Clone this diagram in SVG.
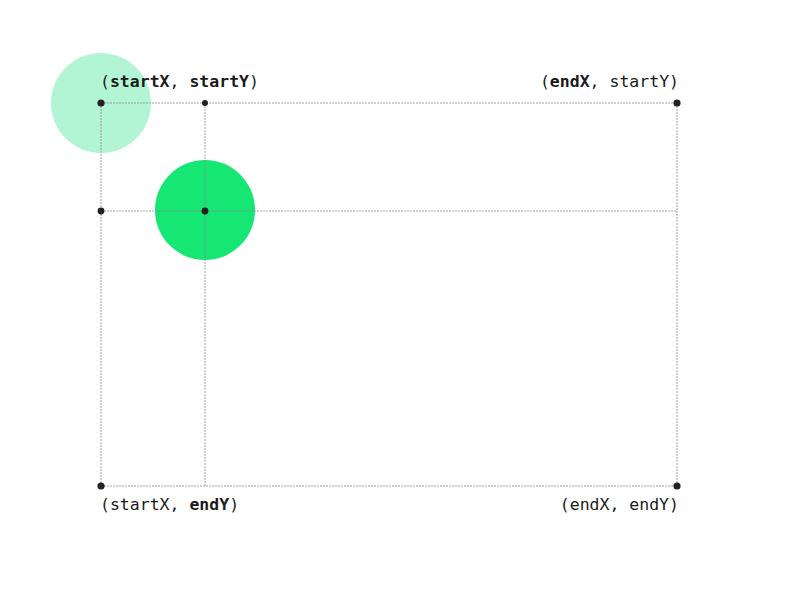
<svg xmlns="http://www.w3.org/2000/svg" width="800" height="600" viewBox="0 0 800 600">
<style>
.grid{stroke:#8a8a8a;stroke-width:1;stroke-dasharray:2 1;fill:none;opacity:0.8}
.dot{fill:#222}
.lbl{font-family:"DejaVu Sans Mono","Liberation Mono",monospace;font-size:16.5px;fill:#1a1a1a}
.b{font-weight:bold}
</style>
<rect width="800" height="600" fill="#fff"/>
<g id="start-circle"><circle cx="101" cy="103" r="50" fill="#b2f5d4"/></g>
<g id="end-circle"><circle cx="205" cy="210" r="50" fill="#16e673"/></g>
<g id="connectors">
<line class="grid" x1="101" y1="103" x2="677" y2="103"/>
<line class="grid" x1="101" y1="211" x2="677" y2="211"/>
<line class="grid" x1="101" y1="486" x2="677" y2="486"/>
<line class="grid" x1="101" y1="103" x2="101" y2="486"/>
<line class="grid" x1="205" y1="103" x2="205" y2="486"/>
<line class="grid" x1="677" y1="103" x2="677" y2="486"/>
</g>
<g id="points">
<circle class="dot" cx="101" cy="103" r="3.6"/>
<circle class="dot" cx="205" cy="103" r="3"/>
<circle class="dot" cx="677" cy="103" r="3.6"/>
<circle class="dot" cx="101" cy="211" r="3.4"/>
<circle class="dot" cx="205" cy="211" r="3.4"/>
<circle class="dot" cx="101" cy="486" r="3.6"/>
<circle class="dot" cx="677" cy="486" r="3.6"/>
</g>
<g id="label-start-start"><text class="lbl" x="100" y="87">(<tspan class="b">startX</tspan>, <tspan class="b">startY</tspan>)</text></g>
<g id="label-end-start"><text class="lbl" x="679" y="87" text-anchor="end">(<tspan class="b">endX</tspan>, startY)</text></g>
<g id="label-start-end"><text class="lbl" x="100" y="510">(startX, <tspan class="b">endY</tspan>)</text></g>
<g id="label-end-end"><text class="lbl" x="679" y="510" text-anchor="end">(endX, endY)</text></g>
</svg>
